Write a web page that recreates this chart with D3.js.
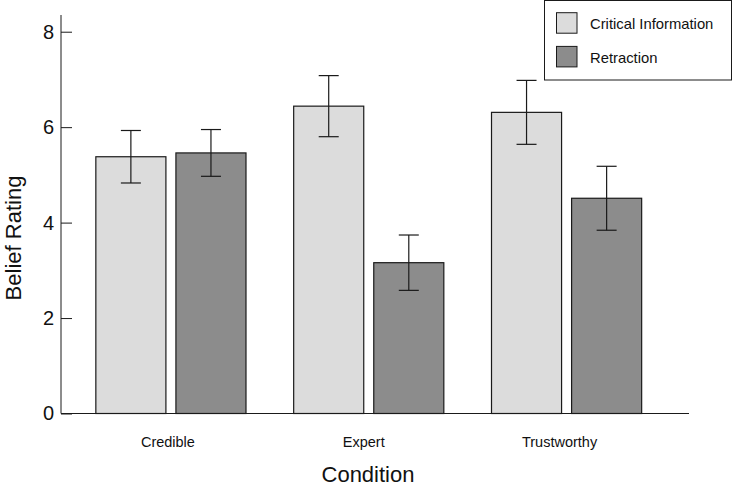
<!DOCTYPE html>
<html>
<head>
    <title>Belief Rating by Condition</title>
    <script src="https://d3js.org/d3.v7.min.js"></script>
    <style>
        body { margin: 0; background: #fff; }
        text { font-family: "Liberation Sans", Arial, sans-serif; fill: #111; }
    </style>
</head>
<body>
    <svg id="chart"></svg>

    <script>
        // Data values
        const conditions = ['Credible', 'Expert', 'Trustworthy'];
        const seriesNames = ['Critical Information', 'Retraction'];
        const criticalValues = [5.38, 6.44, 6.31];
        const criticalErrors = [0.55, 0.64, 0.67];
        const retractionValues = [5.46, 3.16, 4.51];
        const retractionErrors = [0.49, 0.58, 0.67];
        const yTicks = [0, 2, 4, 6, 8];

        const colors = { 'Critical Information': '#dcdcdc', 'Retraction': '#8c8c8c' };

        // Build rows for drawing
        const rows = [];
        conditions.forEach((c, i) => {
            rows.push({ condition: c, series: seriesNames[0], value: criticalValues[i], err: criticalErrors[i] });
            rows.push({ condition: c, series: seriesNames[1], value: retractionValues[i], err: retractionErrors[i] });
        });

        // Chart dimensions
        const width = 733;
        const height = 487;
        const axisX = 61;
        const axisEnd = 689;

        const chart = d3.select('#chart')
            .attr('width', width)
            .attr('height', height);

        // Scales
        const x0 = d3.scaleBand()
            .domain(conditions)
            .range([72, 665.5])
            .paddingInner(0.241)
            .paddingOuter(0.1205);

        const x1 = d3.scaleBand()
            .domain(seriesNames)
            .range([0, x0.bandwidth()])
            .paddingInner(0.125);

        const y = d3.scaleLinear()
            .domain([0, 8.35])
            .range([413.5, 15]);

        // Bars
        chart.selectAll('.bar')
            .data(rows)
            .enter()
            .append('rect')
            .attr('class', 'bar')
            .attr('x', d => x0(d.condition) + x1(d.series))
            .attr('y', d => y(d.value))
            .attr('width', x1.bandwidth())
            .attr('height', d => y(0) - y(d.value))
            .attr('fill', d => colors[d.series])
            .attr('stroke', '#1a1a1a')
            .attr('stroke-width', 1.2);

        // Error bars
        const errG = chart.selectAll('.err')
            .data(rows)
            .enter()
            .append('g')
            .attr('class', 'err')
            .attr('stroke', '#1a1a1a')
            .attr('stroke-width', 1.2)
            .attr('transform', d => `translate(${x0(d.condition) + x1(d.series) + x1.bandwidth() / 2},0)`);

        errG.append('line')
            .attr('y1', d => y(d.value + d.err))
            .attr('y2', d => y(d.value - d.err));
        errG.append('line')
            .attr('x1', -10).attr('x2', 10)
            .attr('y1', d => y(d.value + d.err))
            .attr('y2', d => y(d.value + d.err));
        errG.append('line')
            .attr('x1', -10).attr('x2', 10)
            .attr('y1', d => y(d.value - d.err))
            .attr('y2', d => y(d.value - d.err));

        // Y axis
        const yAxis = chart.append('g')
            .attr('transform', `translate(${axisX},0)`)
            .call(d3.axisLeft(y).tickValues(yTicks).tickSizeInner(-11).tickSizeOuter(0).tickPadding(7));
        yAxis.select('.domain').remove();
        yAxis.selectAll('line').attr('stroke', '#1a1a1a');
        yAxis.selectAll('text').attr('font-size', 20).attr('fill', '#111');
        yAxis.append('line')
            .attr('y1', y.range()[1]).attr('y2', y(0))
            .attr('stroke', '#1a1a1a');

        // X axis line
        chart.append('line')
            .attr('x1', axisX).attr('x2', axisEnd)
            .attr('y1', y(0)).attr('y2', y(0))
            .attr('stroke', '#1a1a1a')
            .attr('stroke-width', 1.2);

        // Category labels
        chart.selectAll('.cat')
            .data(conditions)
            .enter()
            .append('text')
            .attr('class', 'cat')
            .attr('x', (d, i) => x0(d) + x0.bandwidth() / 2 - 3 - i * 2)
            .attr('y', 447)
            .attr('text-anchor', 'middle')
            .attr('font-size', 14.5)
            .text(d => d);

        // Axis titles
        chart.append('text')
            .attr('x', 368)
            .attr('y', 482)
            .attr('text-anchor', 'middle')
            .attr('font-size', 22)
            .text('Condition');

        chart.append('text')
            .attr('transform', 'translate(21,238) rotate(-90)')
            .attr('text-anchor', 'middle')
            .attr('font-size', 22)
            .text('Belief Rating');

        // Legend
        const legend = chart.append('g');
        legend.append('rect')
            .attr('x', 544.5).attr('y', 0.5)
            .attr('width', 187).attr('height', 79.5)
            .attr('fill', '#fff')
            .attr('stroke', '#1a1a1a');

        const items = legend.selectAll('.item')
            .data(seriesNames)
            .enter()
            .append('g')
            .attr('class', 'item')
            .attr('transform', (d, i) => `translate(556.5,${12.7 + i * 33.7})`);

        items.append('rect')
            .attr('width', 20.5).attr('height', 20.5)
            .attr('fill', d => colors[d])
            .attr('stroke', '#1a1a1a');

        items.append('text')
            .attr('x', 33.5)
            .attr('y', 16.5)
            .attr('font-size', 14.8)
            .text(d => d);
    </script>
</body>
</html>
